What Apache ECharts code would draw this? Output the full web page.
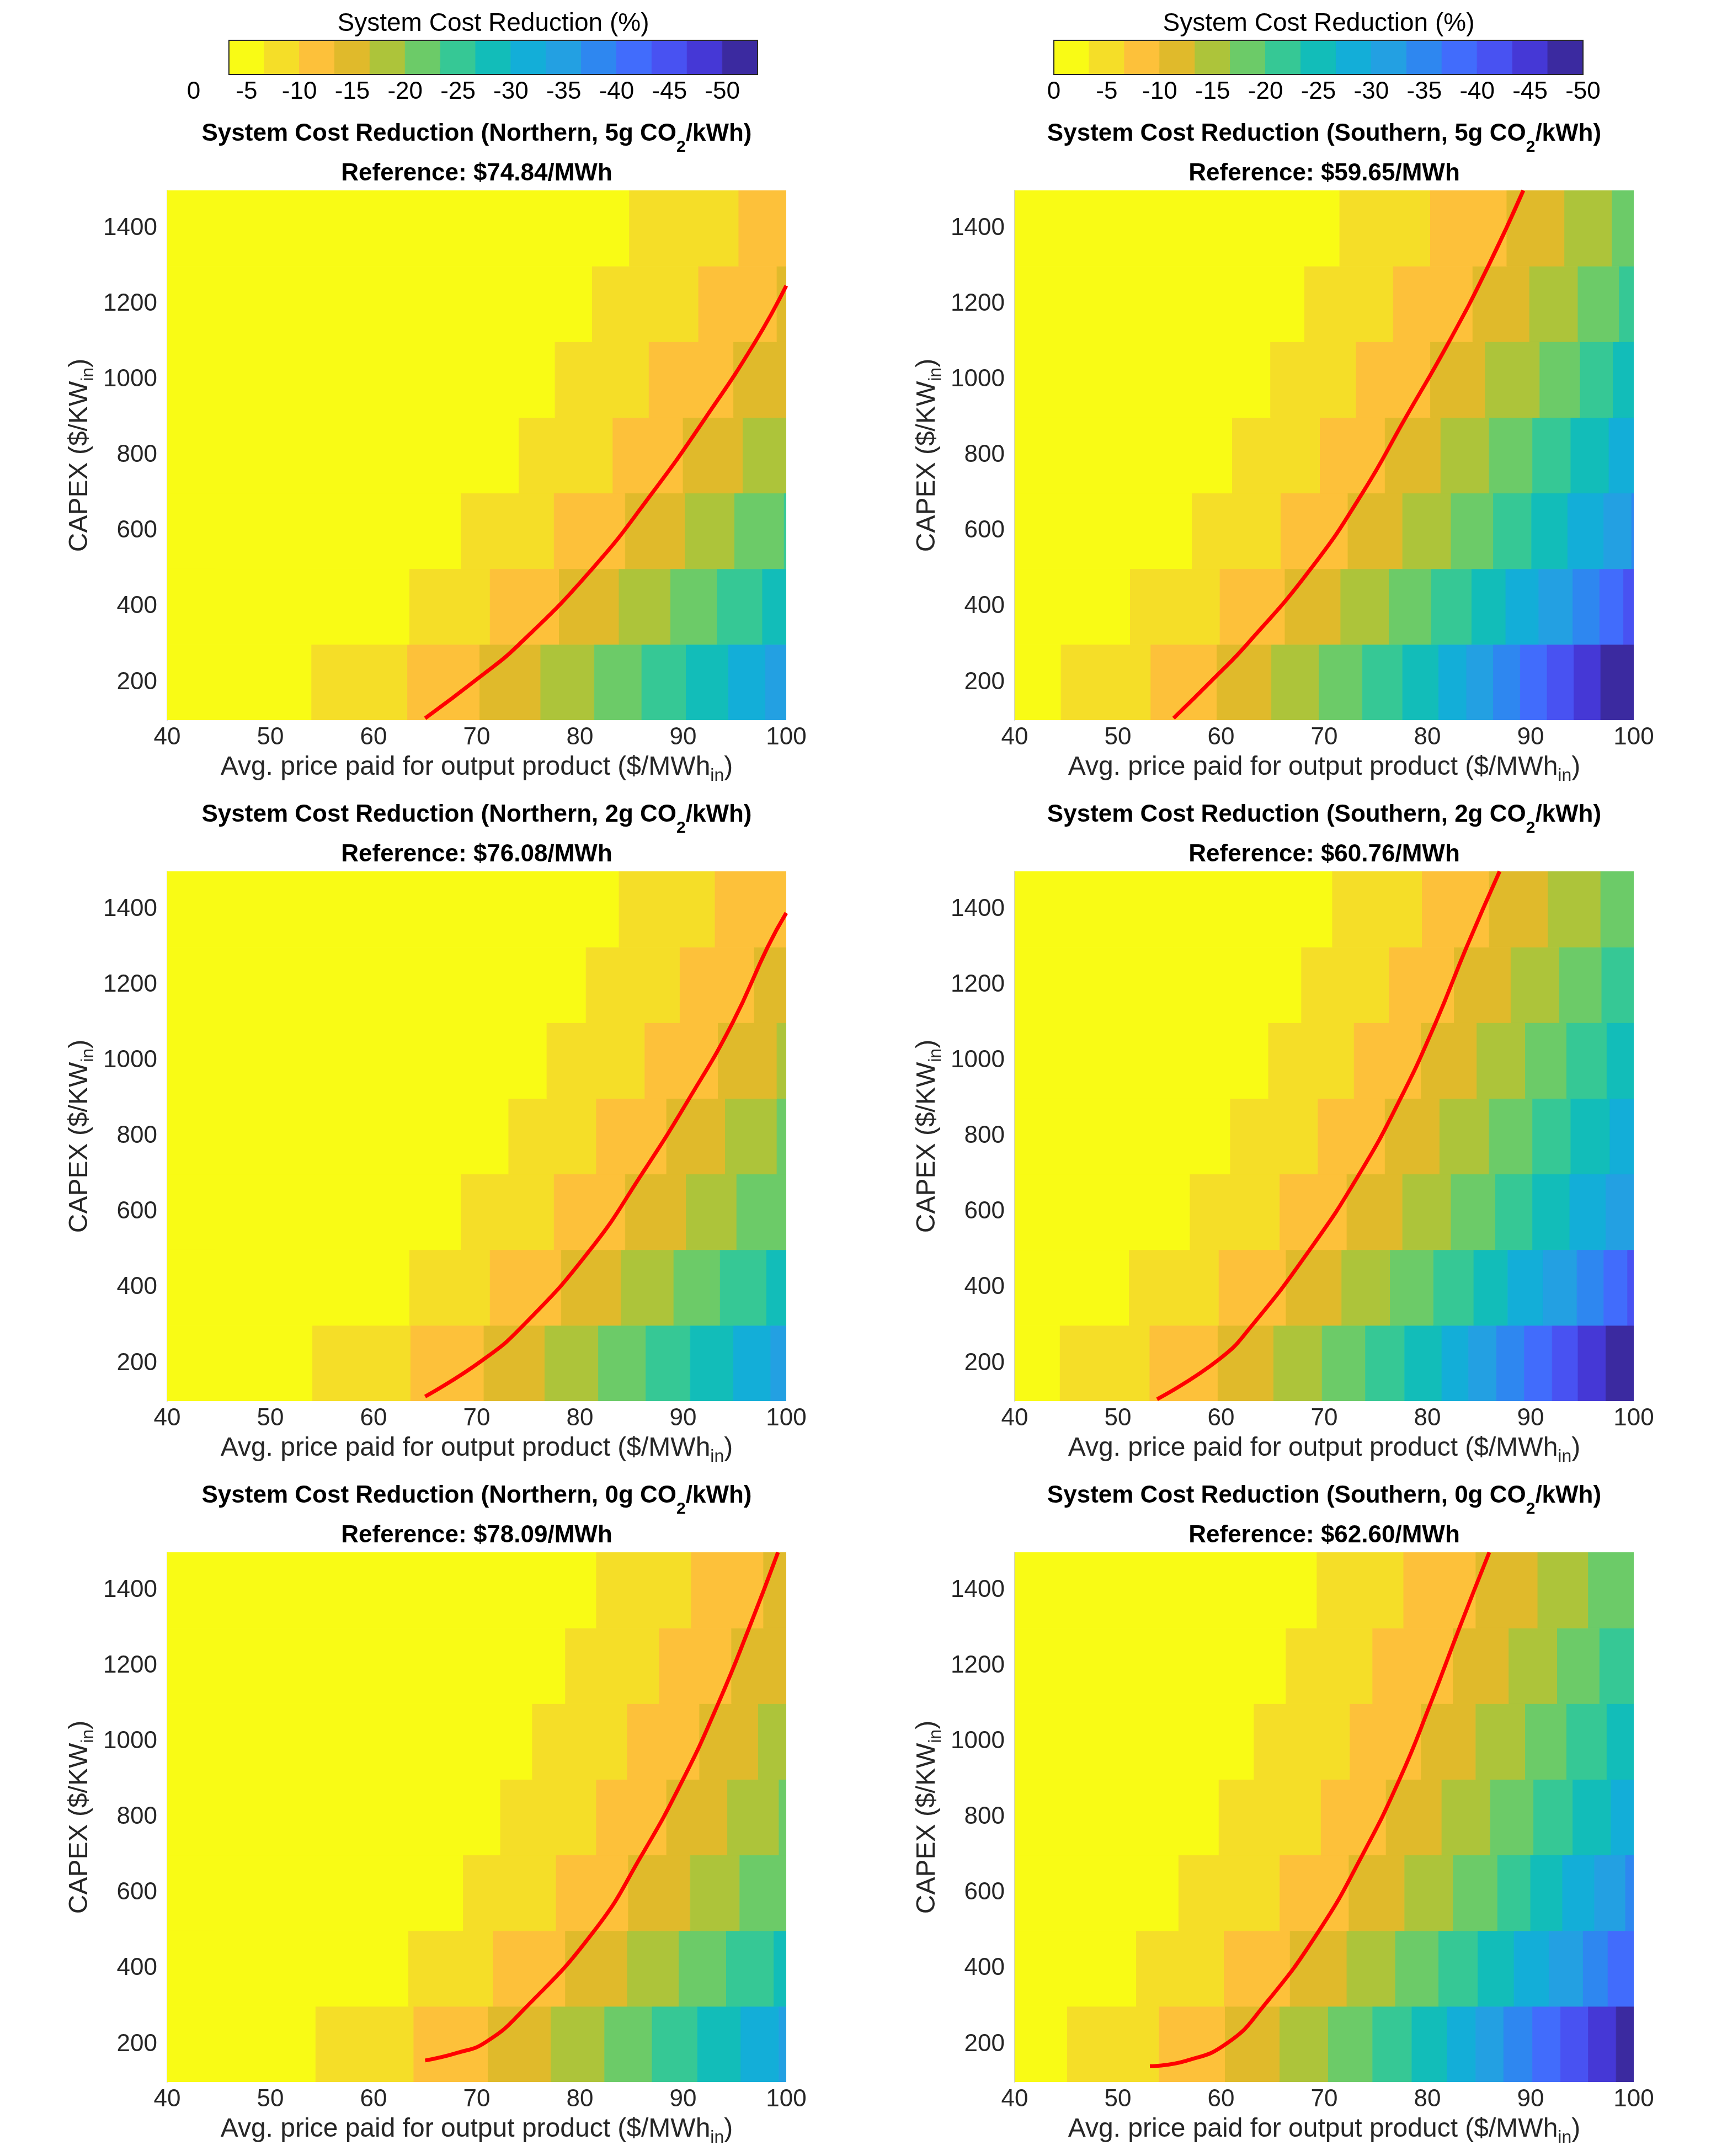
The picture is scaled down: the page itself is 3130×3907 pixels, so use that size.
<!DOCTYPE html>
<html>
<head>
<meta charset="utf-8">
<title>System Cost Reduction</title>
<script src="https://cdn.jsdelivr.net/npm/echarts@6/dist/echarts.min.js"></script>
<style>
html, body { margin: 0; padding: 0; background: #fff; }
#main { width: 3130px; height: 3907px; }
</style>
</head>
<body>
<div id="main"></div>
<script>
// discrete colour levels of the colorbar, 0 % down to -50 % in 15 steps
var levelColors = ['#f9fb15', '#f5de28', '#fdc13a', '#e0ba2b', '#adc43a', '#6ccb68', '#36c895',
    '#12bdb9', '#13aed8', '#23a0e2', '#2e87f0', '#416cfc', '#4852f2', '#4538d6', '#3b2aa0'];
var cbarLabels = ['0', '-5', '-10', '-15', '-20', '-25', '-30', '-35', '-40', '-45', '-50'];

// CAPEX rows ($/kW_in), each row is 200 tall
var capexRows = [200, 400, 600, 800, 1000, 1200, 1400];

// price ($/MWh_in) where each row steps to the next colour level, bottom row first
var northern5 = [
    [54.0, 63.3, 70.3, 76.2, 81.4, 86.0, 90.3, 94.4, 98.0],
    [63.5, 71.3, 78.0, 83.8, 88.8, 93.3, 97.7],
    [68.5, 77.5, 84.4, 90.2, 95.0, 99.8],
    [74.1, 83.2, 90.0, 95.8],
    [77.6, 86.7, 94.9],
    [81.2, 91.5, 99.1],
    [84.8, 95.4]
];
var southern5 = [
    [44.5, 53.2, 59.6, 64.9, 69.5, 73.7, 77.6, 81.1, 83.8, 86.4, 89.0, 91.6, 94.2, 96.8],
    [51.2, 59.9, 66.2, 71.6, 76.3, 80.4, 84.3, 87.6, 90.8, 94.1, 96.7, 99.0],
    [57.2, 65.8, 72.3, 77.6, 82.3, 86.4, 90.1, 93.6, 97.1, 99.8],
    [61.1, 69.6, 75.9, 81.3, 86.0, 90.2, 93.9, 97.6],
    [64.8, 73.1, 80.3, 85.6, 90.9, 94.8, 98.0],
    [68.1, 76.7, 84.4, 89.9, 94.6, 98.6],
    [71.5, 80.3, 87.7, 93.3, 97.9]
];
var northern2 = [
    [54.1, 63.6, 70.7, 76.6, 81.8, 86.4, 90.7, 94.9, 98.5],
    [63.5, 71.3, 78.2, 84.0, 89.1, 93.6, 98.1],
    [68.5, 77.5, 84.4, 90.3, 95.2],
    [73.1, 81.6, 88.4, 94.1, 99.1],
    [76.8, 86.3, 93.4, 99.1],
    [80.6, 89.7, 96.9],
    [83.8, 93.1]
];
var southern2 = [
    [44.4, 53.1, 59.7, 65.1, 69.8, 74.0, 77.8, 81.4, 84.0, 86.7, 89.4, 92.1, 94.6, 97.3],
    [51.1, 59.8, 66.3, 71.7, 76.4, 80.6, 84.5, 87.8, 91.2, 94.5, 97.1, 99.4],
    [57.0, 65.7, 72.2, 77.6, 82.3, 86.6, 90.2, 93.8, 97.3],
    [60.9, 69.4, 75.9, 81.2, 86.0, 90.2, 93.9, 97.7],
    [64.6, 72.9, 79.4, 84.8, 89.5, 93.5, 97.4],
    [67.8, 76.3, 82.6, 88.1, 92.8, 96.9],
    [70.8, 79.5, 86.0, 91.7, 96.8]
];
var northern0 = [
    [54.4, 63.9, 71.1, 77.2, 82.4, 87.0, 91.4, 95.6, 99.3],
    [63.4, 71.6, 78.6, 84.6, 89.6, 94.2, 98.8],
    [68.7, 77.7, 84.7, 90.7, 95.5],
    [72.3, 81.6, 88.4, 94.3, 99.3],
    [75.4, 84.6, 91.6, 97.3],
    [78.6, 87.7, 94.7],
    [81.6, 90.8, 97.8]
];
var southern0 = [
    [45.1, 54.0, 60.4, 65.7, 70.4, 74.7, 78.5, 81.9, 84.7, 87.4, 90.2, 92.9, 95.6, 98.3],
    [51.8, 60.3, 66.7, 72.2, 76.9, 81.1, 84.9, 88.4, 91.8, 95.1, 97.5],
    [55.9, 65.7, 72.4, 77.8, 82.5, 86.8, 90.0, 93.1, 96.2, 99.2],
    [59.8, 69.7, 76.0, 81.4, 86.1, 90.3, 94.1, 97.8],
    [63.2, 72.5, 79.4, 84.7, 89.5, 93.5, 97.4],
    [66.3, 74.7, 82.5, 87.9, 92.6, 96.7],
    [69.3, 77.7, 84.7, 90.7, 95.6]
];

// red break-even curves [price, capex]
var northern5Curve = [[65.0, 105], [70.3, 214], [74.1, 300], [81.2, 500], [87.0, 700], [92.2, 900], [97.0, 1100], [100, 1248]];
var southern5Curve = [[55.4, 105], [59.3, 210], [62.5, 300], [68.7, 500], [73.7, 700], [77.9, 900], [82.1, 1100], [85.9, 1300], [89.3, 1500]];
var northern2Curve = [[65.0, 112], [70.5, 207], [74.5, 300], [81.0, 500], [86.0, 700], [90.6, 900], [94.8, 1100], [98.2, 1300], [100, 1390]];
var southern2Curve = [[53.8, 105], [59.8, 210], [63.0, 300], [68.6, 500], [73.4, 700], [77.4, 900], [80.8, 1100], [83.8, 1300], [87.0, 1500]];
var northern0Curve = [[65.0, 157], [68.1, 177], [70.9, 206], [74.5, 290], [81.4, 500], [86.0, 700], [90.0, 900], [93.4, 1100], [96.4, 1300], [99.2, 1500]];
var southern0Curve = [[53.1, 142], [56.6, 156], [60.6, 203], [64.1, 300], [69.5, 500], [73.7, 700], [77.3, 900], [80.3, 1100], [83.1, 1300], [86.0, 1500]];

var regions = ['Northern', 'Southern', 'Northern', 'Southern', 'Northern', 'Southern'];
var emissions = ['5g', '5g', '2g', '2g', '0g', '0g'];
var references = ['74.84', '59.65', '76.08', '60.76', '78.09', '62.60'];
var panelRows = [northern5, southern5, northern2, southern2, northern0, southern0];
var panelCurves = [northern5Curve, southern5Curve, northern2Curve, southern2Curve, northern0Curve, southern0Curve];

var FONT = "'Liberation Sans', Arial, sans-serif";
var TXT = '#262626';
var colLeft = [303, 1839];
var rowTop = [345, 1579, 2813];
var plotW = 1122, plotH = 960;

function buildCells(rows) {
    var cells = [];
    rows.forEach(function (breaks, r) {
        var edges = [40].concat(breaks, [100]);
        for (var k = 0; k < edges.length - 1; k++) {
            cells.push([edges[k], edges[k + 1], capexRows[r] - 100, capexRows[r] + 100, k]);
        }
    });
    return cells;
}

function renderCell(params, api) {
    var a = api.coord([api.value(0), api.value(3)]);
    var b = api.coord([api.value(1), api.value(2)]);
    var c = levelColors[api.value(4)];
    return {
        type: 'rect',
        shape: {x: a[0], y: a[1], width: b[0] - a[0], height: b[1] - a[1]},
        style: {fill: c, stroke: c, lineWidth: 1}
    };
}

function renderFrame(params, api) {
    var a = api.coord([api.value(0), api.value(3)]);
    var b = api.coord([api.value(1), api.value(2)]);
    return {
        type: 'rect',
        shape: {x: a[0], y: a[1], width: b[0] - a[0], height: b[1] - a[1]},
        style: {fill: 'none', stroke: '#262626', lineWidth: 2}
    };
}

var subRich = {
    m: {fontSize: 48, lineHeight: 48, fontFamily: FONT, color: TXT},
    s: {fontSize: 32, lineHeight: 32, fontFamily: FONT, color: TXT, padding: [30, 0, 0, 0]}
};

var grids = [], xAxes = [], yAxes = [], series = [], graphics = [];

panelRows.forEach(function (rows, i) {
    var left = colLeft[i % 2];
    var top = rowTop[Math.floor(i / 2)];
    grids.push({left: left, top: top, width: plotW, height: plotH});
    xAxes.push({
        gridIndex: i, type: 'value', min: 40, max: 100, interval: 10,
        name: '{m|Avg. price paid for output product ($/MWh}{s|in}{m|)}',
        nameLocation: 'middle', nameGap: 56,
        nameTextStyle: {rich: subRich},
        axisLine: {show: false}, axisTick: {show: false}, splitLine: {show: false},
        axisLabel: {fontSize: 44, fontFamily: FONT, color: TXT, margin: 10}
    });
    yAxes.push({
        gridIndex: i, type: 'value', min: 100, max: 1500,
        name: '{m|CAPEX ($/KW}{s|in}{m|)}',
        nameLocation: 'middle', nameGap: 134,
        nameTextStyle: {rich: subRich},
        axisLine: {show: true, lineStyle: {color: '#d0d0d0', width: 2}},
        axisTick: {show: false}, splitLine: {show: false},
        axisLabel: {
            customValues: capexRows, fontSize: 44, fontFamily: FONT, color: TXT, margin: 18,
            formatter: function (v) { return String(v); }
        }
    });
    series.push({
        type: 'custom', xAxisIndex: i, yAxisIndex: i, silent: true, clip: true,
        renderItem: renderCell, encode: {x: [0, 1], y: [2, 3]},
        data: buildCells(rows)
    });
    series.push({
        type: 'line', xAxisIndex: i, yAxisIndex: i, silent: true, z: 5,
        data: panelCurves[i], smooth: 0.5, symbol: 'none',
        lineStyle: {color: '#ff0000', width: 7}
    });

    var cx = left + plotW / 2;
    graphics.push({
        type: 'text', x: cx, y: top - 102,
        style: {
            text: '{b|System Cost Reduction (' + regions[i] + ', ' + emissions[i] + ' CO}{s|2}{b|/kWh)}',
            align: 'center', verticalAlign: 'middle',
            rich: {
                b: {fontSize: 44, lineHeight: 44, fontWeight: 'bold', fontFamily: FONT, fill: '#000'},
                s: {fontSize: 30, lineHeight: 30, fontWeight: 'bold', fontFamily: FONT, fill: '#000', padding: [48, 0, 0, 0]}
            }
        }
    });
    graphics.push({
        type: 'text', x: cx, y: top - 30,
        style: {
            text: 'Reference: $' + references[i] + '/MWh',
            align: 'center', verticalAlign: 'middle',
            fontSize: 44, fontWeight: 'bold', fontFamily: FONT, fill: '#000'
        }
    });
});

// colorbars: left one has its labels shifted one block to the left, as in the figure
var cbarBlocks = levelColors.map(function (c, k) { return [k, k + 1, 0, 1, k]; });
var cbarTicks = [1.5, 3, 4.5, 6, 7.5, 9, 10.5, 12, 13.5];
var cbarDefs = [
    {grid: {left: 351, top: 73, width: 1022, height: 62}, min: -1, shift: -1, cx: 894},
    {grid: {left: 1910, top: 73, width: 959, height: 62}, min: 0, shift: 0, cx: 2390}
];
cbarDefs.forEach(function (d, j) {
    var gi = 6 + j;
    grids.push(d.grid);
    xAxes.push({
        gridIndex: gi, type: 'value', min: d.min, max: 15,
        axisLine: {show: false}, splitLine: {show: false},
        axisTick: {show: true, inside: true, length: 11, customValues: cbarTicks, lineStyle: {color: '#262626', width: 2}},
        axisLabel: {
            customValues: cbarLabels.map(function (s, k) { return 1.5 * k + d.shift; }),
            formatter: function (v) { return cbarLabels[Math.round((v - d.shift) / 1.5)]; },
            fontSize: 44, fontFamily: FONT, color: '#000', margin: 10
        }
    });
    yAxes.push({gridIndex: gi, type: 'value', min: 0, max: 1, show: false});
    series.push({
        type: 'custom', xAxisIndex: gi, yAxisIndex: gi, silent: true,
        renderItem: renderCell, encode: {x: [0, 1], y: [2, 3]}, data: cbarBlocks
    });
    series.push({
        type: 'custom', xAxisIndex: gi, yAxisIndex: gi, silent: true, z: 4,
        renderItem: renderFrame, encode: {x: [0, 1], y: [2, 3]}, data: [[0, 15, 0, 1]]
    });
    graphics.push({
        type: 'text', x: d.cx, y: 43,
        style: {
            text: 'System Cost Reduction (%)', align: 'center', verticalAlign: 'middle',
            fontSize: 46, fontFamily: FONT, fill: '#000'
        }
    });
});

var chart = echarts.init(document.getElementById('main'));
chart.setOption({
    animation: false,
    backgroundColor: '#fff',
    grid: grids,
    xAxis: xAxes,
    yAxis: yAxes,
    series: series,
    graphic: graphics
});
window.addEventListener('resize', function () {
    chart.resize();
});
</script>
</body>
</html>
